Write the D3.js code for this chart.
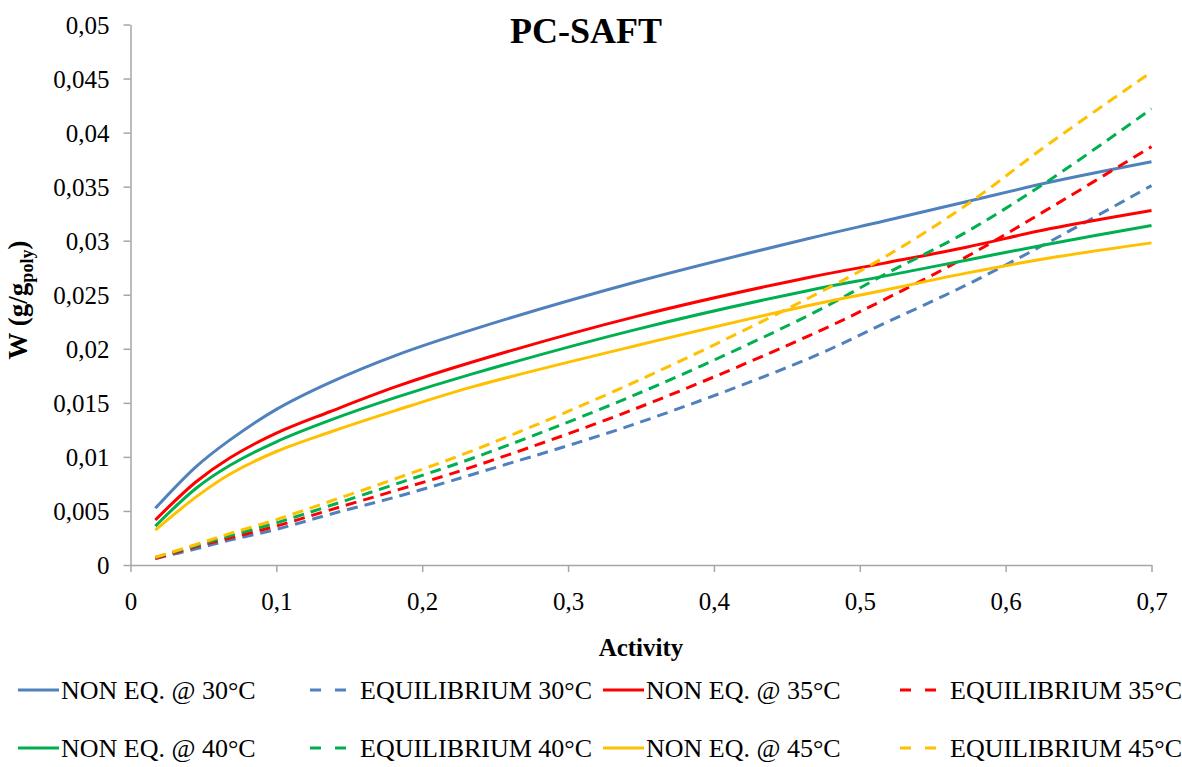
<!DOCTYPE html>
<html>
<head>
<meta charset="utf-8">
<script src="https://cdn.jsdelivr.net/npm/d3@7/dist/d3.min.js"></script>
<style>
  body { margin: 0; background: #fff; }
  svg { display: block; font-family: "Liberation Serif", "Times New Roman", serif; }
</style>
</head>
<body>
<svg id="chart" width="1182" height="767"></svg>
<script>
// Water uptake W (g/g_poly) versus activity, PC-SAFT model
const activity = [0.017, 0.045, 0.068, 0.1, 0.137, 0.182, 0.235, 0.347, 0.465, 0.516, 0.573, 0.63, 0.7];

const nonEq30 = [0.00524, 0.0091, 0.01155, 0.0144, 0.0169, 0.0194, 0.0218, 0.0262, 0.0302, 0.0318, 0.0336, 0.0354, 0.0373];
const nonEq35 = [0.00416, 0.0077, 0.0099, 0.0122, 0.0142, 0.0165, 0.0188, 0.0230, 0.0266, 0.0279, 0.0294, 0.0311, 0.0328];
const nonEq40 = [0.0036, 0.0071, 0.0092, 0.0114, 0.0134, 0.0155, 0.0177, 0.0218, 0.0254, 0.0267, 0.0282, 0.0297, 0.0314];
const nonEq45 = [0.00323, 0.0063, 0.0084, 0.0105, 0.0123, 0.0143, 0.0165, 0.0203, 0.0240, 0.0254, 0.0270, 0.0284, 0.0298];

const eq30 = [0.0006, 0.0015, 0.0023, 0.0033, 0.0047, 0.0063, 0.0084, 0.0131, 0.0191, 0.0223, 0.0259, 0.0299, 0.0351];
const eq35 = [0.0006, 0.0017, 0.0025, 0.0036, 0.0051, 0.0069, 0.0091, 0.0145, 0.0212, 0.0245, 0.0285, 0.0330, 0.0387];
const eq40 = [0.0007, 0.0018, 0.0027, 0.0039, 0.0055, 0.0075, 0.0099, 0.0158, 0.0231, 0.0268, 0.0308, 0.0356, 0.0422];
const eq45 = [0.0007, 0.0019, 0.0029, 0.0042, 0.0059, 0.0080, 0.0106, 0.0170, 0.0247, 0.0284, 0.0333, 0.0390, 0.0456];

const xTicks = [0, 0.1, 0.2, 0.3, 0.4, 0.5, 0.6, 0.7];
const xTickLabels = ["0", "0,1", "0,2", "0,3", "0,4", "0,5", "0,6", "0,7"];
const yTicks = [0, 0.005, 0.01, 0.015, 0.02, 0.025, 0.03, 0.035, 0.04, 0.045, 0.05];
const yTickLabels = ["0", "0,005", "0,01", "0,015", "0,02", "0,025", "0,03", "0,035", "0,04", "0,045", "0,05"];

const seriesNames = [
  "NON EQ. @ 30°C", "EQUILIBRIUM 30°C", "NON EQ. @ 35°C", "EQUILIBRIUM 35°C",
  "NON EQ. @ 40°C", "EQUILIBRIUM 40°C", "NON EQ. @ 45°C", "EQUILIBRIUM 45°C"
];
const seriesValues = [nonEq30, eq30, nonEq35, eq35, nonEq40, eq40, nonEq45, eq45];
const seriesColors = ["#4F81BD", "#4F81BD", "#FF0000", "#FF0000", "#00B050", "#00B050", "#FFC000", "#FFC000"];
const seriesDashed = [false, true, false, true, false, true, false, true];

const svg = d3.select("#chart");
const axisColor = "#A6A6A6";

const x = d3.scaleLinear().domain([0, 0.7]).range([130.5, 1151.5]);
const y = d3.scaleLinear().domain([0, 0.05]).range([565, 24.5]);

// Axes
const xAxis = d3.axisBottom(x).tickValues(xTicks)
  .tickFormat((d, i) => xTickLabels[i]).tickSizeInner(7).tickSizeOuter(0).tickPadding(20);
const yAxis = d3.axisLeft(y).tickValues(yTicks)
  .tickFormat((d, i) => yTickLabels[i]).tickSizeInner(7).tickSizeOuter(0).tickPadding(14);

const gx = svg.append("g").attr("transform", `translate(0,${y(0)})`).call(xAxis);
const gy = svg.append("g").attr("transform", `translate(${x(0)},0)`).call(yAxis);

[gx, gy].forEach(g => {
  g.attr("font-family", null);
  g.select(".domain").attr("stroke", axisColor).attr("stroke-width", 1.5);
  g.selectAll(".tick line").attr("stroke", axisColor).attr("stroke-width", 1.5);
  g.selectAll(".tick text")
    .attr("fill", "#000")
    .style("font-family", "'Liberation Serif', serif")
    .style("font-size", "25px");
});
gx.selectAll(".tick text").attr("dy", "0.71em");
gy.selectAll(".tick text").attr("dy", "0.35em");

// Curves
const line = d3.line()
  .x((d, i) => x(activity[i]))
  .y(d => y(d))
  .curve(d3.curveCatmullRom.alpha(0.5));

seriesValues.forEach((vals, k) => {
  svg.append("path")
    .datum(vals)
    .attr("fill", "none")
    .attr("stroke", seriesColors[k])
    .attr("stroke-width", 3)
    .attr("stroke-dasharray", seriesDashed[k] ? "11,7" : null)
    .attr("stroke-linecap", "butt")
    .attr("d", line);
});

// Title
svg.append("text")
  .attr("x", 586).attr("y", 43)
  .attr("text-anchor", "middle")
  .style("font-weight", "bold")
  .style("font-size", "36px")
  .text("PC-SAFT");

// Axis titles
svg.append("text")
  .attr("x", 641).attr("y", 656)
  .attr("text-anchor", "middle")
  .style("font-weight", "bold")
  .style("font-size", "25px")
  .text("Activity");

const yTitle = svg.append("text")
  .attr("transform", "translate(27,300) rotate(-90)")
  .attr("text-anchor", "middle")
  .style("font-weight", "bold")
  .style("font-size", "27px");
yTitle.append("tspan").text("W (g/g");
yTitle.append("tspan").attr("dy", 6).style("font-size", "18px").text("poly");
yTitle.append("tspan").attr("dy", -6).text(")");

// Legend: two rows of four entries
const legendCols = [18, 310, 603, 900];
const legendRows = [690, 748];
const legend = svg.append("g");
seriesNames.forEach((name, k) => {
  const col = k % 4, row = Math.floor(k / 4);
  const lx = legendCols[col], ly = legendRows[row];
  const dashed = seriesDashed[k];
  const g = legend.append("g").attr("transform", `translate(${lx},${ly})`);
  g.append("line")
    .attr("x1", 0).attr("x2", dashed ? 36 : 41)
    .attr("y1", 0).attr("y2", 0)
    .attr("stroke", seriesColors[k])
    .attr("stroke-width", 3)
    .attr("stroke-dasharray", dashed ? "11,14" : null);
  g.append("text")
    .attr("x", dashed ? 50 : 43)
    .attr("y", 0).attr("dy", "0.35em")
    .style("font-size", "26px")
    .text(name);
});
</script>
</body>
</html>
